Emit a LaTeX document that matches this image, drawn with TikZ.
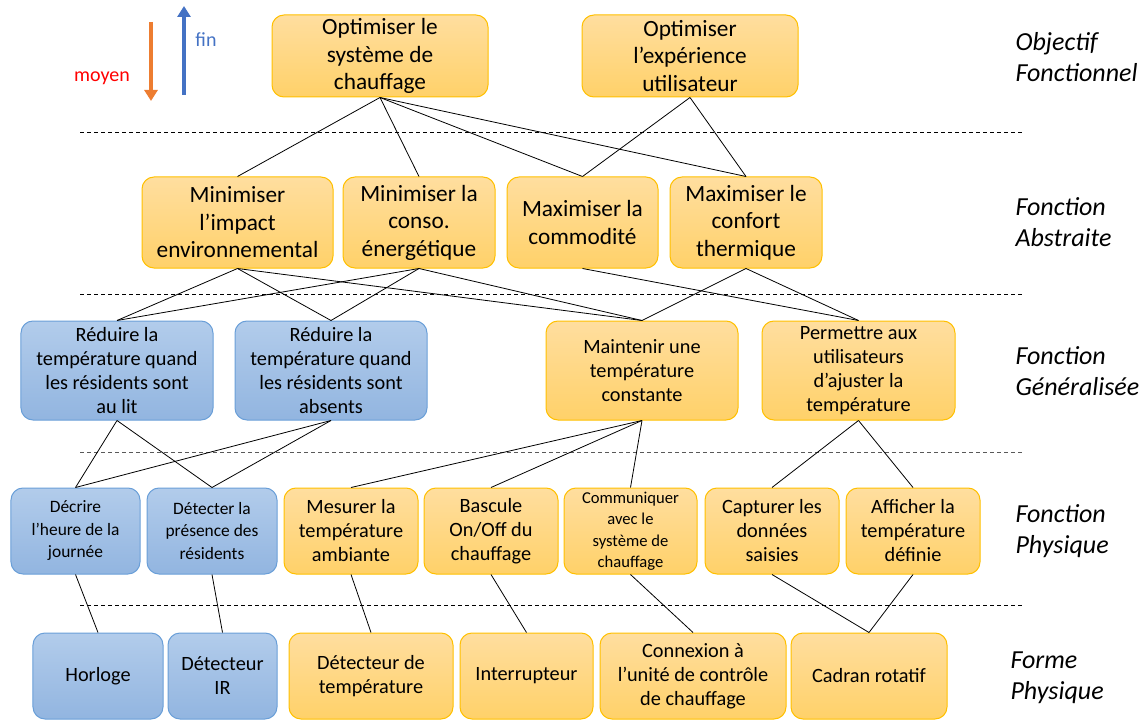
\documentclass[tikz,border=0pt]{standalone}
\usepackage{fontspec}
\setmainfont{Carlito}
\usetikzlibrary{arrows.meta}
\definecolor{ofillA}{HTML}{FFDE9F}
\definecolor{ofillB}{HTML}{FFD169}
\definecolor{oborder}{HTML}{FFC000}
\definecolor{bfillA}{HTML}{B2CCEB}
\definecolor{bfillB}{HTML}{92B5E0}
\definecolor{bborder}{HTML}{6A9FD8}
\definecolor{arrorange}{HTML}{ED7D31}
\definecolor{arrblue}{HTML}{4472C4}
\begin{document}
\begin{tikzpicture}[x=1bp,y=-1bp,
  box/.style={rounded corners=12bp, line width=1bp, align=center, inner sep=0pt},
  obox/.style={box, draw=oborder, top color=ofillA, bottom color=ofillB},
  bbox/.style={box, draw=bborder, top color=bfillA, bottom color=bfillB},
  big/.style={font=\fontsize{23.3bp}{27.5bp}\selectfont},
  mid/.style={font=\fontsize{20.3bp}{24bp}\selectfont},
  small/.style={font=\fontsize{17.4bp}{22.5bp}\selectfont},
  tiny/.style={font=\fontsize{16.6bp}{21.5bp}\selectfont},
  link/.style={draw=black, line width=0.8bp},
  sep/.style={dash pattern=on 4bp off 3bp, line width=0.8bp},
  lvl/.style={font=\fontsize{26bp}{31bp}\selectfont\itshape, align=left, anchor=west},
]
\useasboundingbox (0,0) rectangle (1146,720);

% level separators
\draw[sep] (80,132) -- (1025,132);
\draw[sep] (80,294) -- (1025,294);
\draw[sep, draw=black!65] (80,452) -- (1025,452);
\draw[sep] (80,605) -- (1025,605);

% legend arrows
\coordinate (mA) at (151,22); \coordinate (mB) at (151,101);
\coordinate (fA) at (184,95); \coordinate (fB) at (184,6);
\draw[arrorange, line width=4bp, -{Triangle[width=13bp,length=11bp]}] (mA) -- (mB);
\draw[arrblue, line width=4bp, -{Triangle[width=13bp,length=11bp]}] (fA) -- (fB);
\node[text=red, font=\fontsize{20bp}{22bp}\selectfont] (moyen) at (102,78) {moyen};
\node[text=arrblue, font=\fontsize{20bp}{22bp}\selectfont] (fin) at (206,40) {fin};

% level labels
\node[lvl] (L1) at (1012,57) {Objectif\\Fonctionnel};
\node[lvl] (L2) at (1012,222.5) {Fonction\\Abstraite};
\node[lvl] (L3) at (1012,371) {Fonction\\Généralisée};
\node[lvl] (L4) at (1012,531.5) {Fonction\\Physique};
\node[lvl] (L5) at (1007,677.5) {Forme\\Physique};

% row 1
\node[obox, big, minimum width=216bp, minimum height=82bp] (A1) at (380,56) {Optimiser le\\système de\\chauffage};
\node[obox, big, minimum width=216bp, minimum height=82bp] (A2) at (690,56) {Optimiser\\l’expérience\\utilisateur};

% row 2
\node[obox, big, minimum width=191bp, minimum height=91bp] (B1) at (237.5,222.5) {Minimiser\\l’impact\\environnemental};
\node[obox, big, minimum width=152bp, minimum height=91bp] (B2) at (419,222.5) {Minimiser la\\conso.\\énergétique};
\node[obox, big, minimum width=151bp, minimum height=91bp] (B3) at (582.5,222.5) {Maximiser la\\commodité};
\node[obox, big, minimum width=152bp, minimum height=91bp] (B4) at (746,222.5) {Maximiser le\\confort\\thermique};

% row 3
\node[bbox, mid, minimum width=192bp, minimum height=99bp] (C1) at (117,370.5) {Réduire la\\température quand\\les résidents sont\\au lit};
\node[bbox, mid, minimum width=192bp, minimum height=99bp] (C2) at (331,370.5) {Réduire la\\température quand\\les résidents sont\\absents};
\node[obox, mid, minimum width=192bp, minimum height=99bp] (C3) at (642,370.5) {Maintenir une\\température\\constante};
\node[obox, mid, minimum width=193bp, minimum height=99bp] (C4) at (858.5,370.5) {Permettre aux\\utilisateurs\\d’ajuster la\\température};

% row 4
\node[bbox, small, minimum width=129bp, minimum height=86bp] (D1) at (75.5,531) {Décrire\\l’heure de la\\journée};
\node[bbox, small, minimum width=130bp, minimum height=86bp] (D2) at (212,531) {Détecter la\\présence des\\résidents};
\node[obox, mid, minimum width=134bp, minimum height=86bp] (D3) at (351,531) {Mesurer la\\température\\ambiante};
\node[obox, mid, minimum width=134bp, minimum height=86bp] (D4) at (491,531) {Bascule\\On/Off du\\chauffage};
\node[obox, tiny, minimum width=133bp, minimum height=86bp] (D5) at (630.5,531) {Communiquer\\avec le\\système de\\chauffage};
\node[obox, mid, minimum width=134bp, minimum height=86bp] (D6) at (772,531) {Capturer les\\données\\saisies};
\node[obox, mid, minimum width=134bp, minimum height=86bp] (D7) at (913,531) {Afficher la\\température\\définie};

% row 5
\node[bbox, mid, minimum width=130bp, minimum height=86bp] (E1) at (98,676) {Horloge};
\node[bbox, mid, minimum width=109bp, minimum height=86bp] (E2) at (222.5,676) {Détecteur\\IR};
\node[obox, mid, minimum width=164bp, minimum height=86bp] (E3) at (371,676) {Détecteur de\\température};
\node[obox, mid, minimum width=133bp, minimum height=86bp] (E4) at (526.5,676) {Interrupteur};
\node[obox, mid, minimum width=186bp, minimum height=86bp] (E5) at (693,676) {Connexion à\\l’unité de contrôle\\de chauffage};
\node[obox, mid, minimum width=156bp, minimum height=86bp] (E6) at (869,676) {Cadran rotatif};

% links row1-row2
\draw[link] (A1.south) -- (B1.north);
\draw[link] (A1.south) -- (B2.north);
\draw[link] (A1.south) -- (B3.north);
\draw[link] (A1.south) -- (B4.north);
\draw[link] (A2.south) -- (B3.north);
\draw[link] (A2.south) -- (B4.north);
% row2-row3
\draw[link] (B1.south) -- (C1.north);
\draw[link] (B1.south) -- (C2.north);
\draw[link] (B1.south) -- (C3.north);
\draw[link] (B2.south) -- (C1.north);
\draw[link] (B2.south) -- (C2.north);
\draw[link] (B2.south) -- (C3.north);
\draw[link] (B3.south) -- (C4.north);
\draw[link] (B4.south) -- (C3.north);
\draw[link] (B4.south) -- (C4.north);
% row3-row4
\draw[link] (C1.south) -- (D1.north);
\draw[link] (C1.south) -- (D2.north);
\draw[link] (C2.south) -- (D1.north);
\draw[link] (C2.south) -- (D2.north);
\draw[link] (C3.south) -- (D3.north);
\draw[link] (C3.south) -- (D4.north);
\draw[link] (C3.south) -- (D5.north);
\draw[link] (C4.south) -- (D6.north);
\draw[link] (C4.south) -- (D7.north);
% row4-row5
\draw[link] (D1.south) -- (E1.north);
\draw[link] (D2.south) -- (E2.north);
\draw[link] (D3.south) -- (E3.north);
\draw[link] (D4.south) -- (E4.north);
\draw[link] (D5.south) -- (E5.north);
\draw[link] (D6.south) -- (E6.north);
\draw[link] (D7.south) -- (E6.north);
\end{tikzpicture}
\end{document}
